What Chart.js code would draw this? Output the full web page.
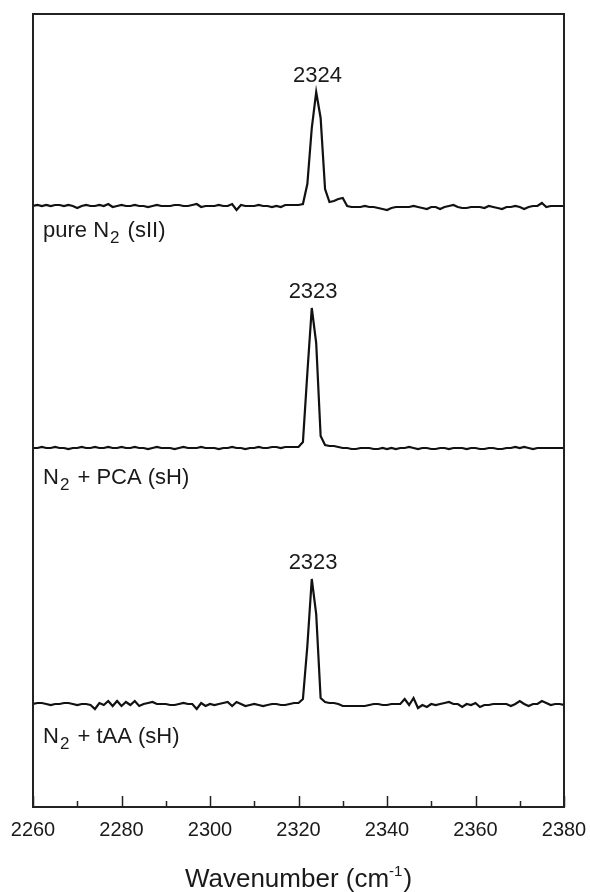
<!DOCTYPE html>
<html>
<head>
<meta charset="utf-8">
<script src="https://cdn.jsdelivr.net/npm/chart.js@4.4.1/dist/chart.umd.min.js"></script>
<style>
  html, body { margin: 0; padding: 0; background: #fff; }
  canvas { display: block; }
</style>
</head>
<body>
<canvas id="spectra" width="590" height="892"></canvas>
<script>
// Raman spectra in the N2 stretching region, one point per cm-1 from 2260 to 2380
const wnStart = 2260;

const pureN2 = [
  0, 1, 0, 1, 0, 1, 1, 0, 1, 0,
  -2, 0, 1, 0, 0, 1, 0, 2, -1, 0,
  1, 0, 0, 1, 0, 0, -1, 0, 1, 0,
  0, 0, 1, 1, 0, 0, 1, 2, -1, 0,
  0, 0, 1, 0, 0, 2, -4, 1, 0, 0,
  0, 1, 0, 0, -1, 0, -1, 1, 1, 1,
  1, 2, 22, 78, 114, 88, 17, 4, 5, 7,
  8, 0, -1, -1, -1, 0, -1, -1, -2, -3,
  -4, -2, -1, -1, -1, -1, 0, -1, -2, -3,
  -1, -1, -3, -1, 0, 1, -1, -2, -2, -1,
  -1, -1, -2, 0, -1, -2, -3, -1, -1, 0,
  -1, -3, -1, 0, 0, 3, -1, 0, 0, 0,
  0
];

const n2PCA = [
  0, 0, 1, 0, 0, 1, 0, 0, -1, 0,
  0, 1, 0, 0, 1, 0, 0, 1, 0, 0,
  1, 0, 0, 1, 0, 0, -1, 0, 1, 0,
  0, 0, -1, 0, 1, 0, 0, 0, 1, 0,
  0, 0, -1, 0, 0, 1, 0, 0, -1, 0,
  0, 1, 0, 0, 1, 1, 0, 1, 1, 1,
  1, 6, 75, 140, 105, 12, 3, 2, 2, 1,
  0, 0, -1, -1, 0, 0, 0, -1, -1, 0,
  -1, 0, -1, 0, 0, 1, 0, -1, 0, 0,
  -1, -1, 0, 0, -1, 0, 0, 0, -1, 0,
  0, -1, -1, 0, 0, -1, -1, 0, 0, 1,
  0, 1, 0, -1, 0, 0, 0, 0, 0, 0,
  0
];

const n2tAA = [
  0, 1, 1, 0, -1, 0, 0, 1, 1, 0,
  -1, 0, 0, -1, -5, 1, -1, 3, -2, 3,
  -2, 2, -1, 3, -2, 0, 1, 2, 0, 0,
  0, -1, -1, 0, 1, 0, 0, -5, 1, -2,
  0, -1, 0, 1, 2, -2, 2, 0, -2, -1,
  0, -1, -2, -1, 0, 0, -1, -1, 0, 1,
  1, 5, 58, 125, 90, 6, 2, 1, 1, 0,
  -2, -2, -2, -2, -2, -2, -1, 0, 0, -1,
  -1, 0, 0, 0, 5, -1, 6, -4, -1, -3,
  0, -1, 0, 1, 2, 0, 0, -3, 0, -1,
  1, -3, -1, -1, 0, 0, 0, 0, -2, 0,
  3, 0, -2, 0, 0, 3, 1, -1, 0, 0,
  -1
];

const traces = [pureN2, n2PCA, n2tAA];
const traceOffsets = [601, 359, 103];
const peakLabels = ['2324', '2323', '2323'];
const peakCenters = [2324.3, 2323.3, 2323.3];
// sample names: [main text, subscript, rest]
const sampleNames = [
  ['pure N', '2', ' (sII)'],
  ['N', '2', ' + PCA (sH)'],
  ['N', '2', ' + tAA (sH)']
];
const sampleLabelY = [570, 323, 64];
const majorTicks = [2260, 2280, 2300, 2320, 2340, 2360, 2380];
const minorTicks = [2270, 2290, 2310, 2330, 2350, 2370];

const wavenumbers = pureN2.map((v, i) => wnStart + i);
const FONT = '"Liberation Sans", Arial, Helvetica, sans-serif';
const INK = '#1a1a1a';

function drawSub(ctx, x, baseline, parts, size) {
  ctx.font = size + 'px ' + FONT;
  ctx.fillText(parts[0], x, baseline);
  x += ctx.measureText(parts[0]).width + 1;
  ctx.font = Math.round(size * 0.75) + 'px ' + FONT;
  ctx.fillText(parts[1], x, baseline + 6);
  x += ctx.measureText(parts[1]).width + 2;
  ctx.font = size + 'px ' + FONT;
  ctx.fillText(parts[2], x, baseline);
}

const spectraDecor = {
  id: 'spectraDecor',
  afterDatasetsDraw(chart) {
    const ctx = chart.ctx;
    const a = chart.chartArea;
    const xs = chart.scales.x;
    const ys = chart.scales.y;
    ctx.save();

    // frame
    ctx.strokeStyle = '#222';
    ctx.lineWidth = 2;
    ctx.strokeRect(a.left, a.top, a.right - a.left, a.bottom - a.top);

    // inward ticks on the bottom axis
    ctx.lineWidth = 1.5;
    ctx.beginPath();
    majorTicks.forEach(v => {
      const px = Math.round(xs.getPixelForValue(v)) + 0.5;
      ctx.moveTo(px, a.bottom);
      ctx.lineTo(px, a.bottom - 11);
    });
    minorTicks.forEach(v => {
      const px = Math.round(xs.getPixelForValue(v)) + 0.5;
      ctx.moveTo(px, a.bottom);
      ctx.lineTo(px, a.bottom - 6);
    });
    ctx.stroke();

    ctx.fillStyle = INK;
    // peak labels
    ctx.font = '22px ' + FONT;
    ctx.textAlign = 'center';
    ctx.textBaseline = 'alphabetic';
    traces.forEach((t, i) => {
      const top = ys.getPixelForValue(traceOffsets[i] + Math.max(...t));
      ctx.fillText(peakLabels[i], xs.getPixelForValue(peakCenters[i]), top - 10);
    });

    // sample names
    ctx.textAlign = 'left';
    sampleNames.forEach((parts, i) => {
      drawSub(ctx, a.left + 10, ys.getPixelForValue(sampleLabelY[i]), parts, 22);
    });

    // axis title with superscript
    const size = 26;
    const main = 'Wavenumber (cm';
    const sup = '-1';
    const close = ')';
    ctx.font = size + 'px ' + FONT;
    const w1 = ctx.measureText(main).width;
    const w3 = ctx.measureText(close).width;
    ctx.font = '15px ' + FONT;
    const w2 = ctx.measureText(sup).width;
    const total = w1 + w2 + w3 + 1;
    let tx = (a.left + a.right) / 2 - total / 2;
    const base = 887;
    ctx.font = size + 'px ' + FONT;
    ctx.fillText(main, tx, base);
    tx += w1;
    ctx.font = '15px ' + FONT;
    ctx.fillText(sup, tx, base - 11);
    tx += w2 + 1;
    ctx.font = size + 'px ' + FONT;
    ctx.fillText(close, tx, base);

    ctx.restore();
  }
};

const datasets = traces.map((t, i) => ({
  data: t.map((v, j) => ({ x: wavenumbers[j], y: traceOffsets[i] + v })),
  borderColor: '#111',
  borderWidth: 2.2,
  pointRadius: 0,
  tension: 0,
  fill: false
}));

new Chart(document.getElementById('spectra').getContext('2d'), {
  type: 'line',
  data: { datasets: datasets },
  options: {
    responsive: false,
    animation: false,
    devicePixelRatio: 1,
    layout: { padding: { left: 33, right: 26, top: 14, bottom: 0 } },
    plugins: {
      legend: { display: false },
      tooltip: { enabled: false }
    },
    scales: {
      x: {
        type: 'linear',
        min: 2260,
        max: 2380,
        grid: { display: false, drawTicks: false },
        border: { display: false },
        ticks: {
          stepSize: 20,
          autoSkip: false,
          maxRotation: 0,
          padding: 11,
          color: INK,
          font: { family: FONT, size: 20 },
          callback: value => String(value)
        },
        afterFit: scale => {
          scale.height = 85;
          scale.paddingLeft = 0;
          scale.paddingRight = 0;
        }
      },
      y: {
        display: false,
        min: 0,
        max: 793
      }
    }
  },
  plugins: [spectraDecor]
});
</script>
</body>
</html>
